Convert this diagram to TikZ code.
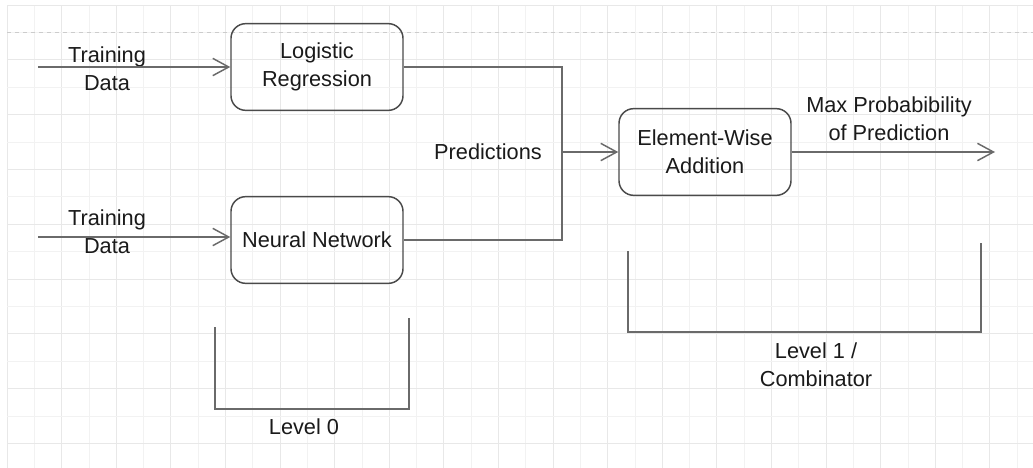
\documentclass[tikz,border=0pt]{standalone}
\usepackage{fontspec}
\setmainfont{Liberation Sans}
\usepackage{xcolor}
\usetikzlibrary{positioning,arrows.meta}

\definecolor{inkgray}{HTML}{1A1A1A}
\definecolor{linegray}{HTML}{6A6A6A}
\definecolor{boxgray}{HTML}{4A4A4A}

\begin{document}
\begin{tikzpicture}[x=0.75pt, y=-0.75pt, >={Straight Barb[length=12pt,width=13pt]}]
    \tikzstyle{box}=[rectangle, draw=boxgray, line width=1.1pt, rounded corners=11pt, align=center, minimum width=129pt, minimum height=65pt, text=inkgray]
    \tikzstyle{lbl}=[align=center, text=inkgray, inner sep=0pt]
    \tikzstyle{flow}=[draw=linegray, line width=1.1pt]
    \tikzstyle{bracket}=[draw=linegray, line width=2pt]
    \tikzstyle{minor}=[draw=gray!10, line width=0.6pt]
    \tikzstyle{major}=[draw=gray!18, line width=0.7pt]

    \useasboundingbox (0,0) rectangle (1033,468);
    \fill[white] (0,0) rectangle (1033,468);

    \foreach \i in {0,...,37} {
        \ifodd\i \draw[minor] ({7+27.3*\i},5) -- ({7+27.3*\i},468);
        \else \draw[major] ({7+27.3*\i},5) -- ({7+27.3*\i},468); \fi
    }
    \foreach \j in {0,...,16} {
        \ifodd\j \draw[minor] (7,{5+27.4*\j}) -- (1033,{5+27.4*\j});
        \else \draw[major] (7,{5+27.4*\j}) -- (1033,{5+27.4*\j}); \fi
    }
    \draw[gray!40, dashed, line width=0.7pt] (7,32.4) -- (1033,32.4);

    \begin{scope}[font=\fontsize{16.3}{21}\selectfont]
    \node[box] (lr) at (317,67) {Logistic\\Regression};
    \node[box] (nn) at (317,240) {Neural Network};
    \node[box] (ew) at (705,152) {Element-Wise\\Addition};

    \coordinate (in1) at (38,67);
    \coordinate (in2) at (38,237);
    \coordinate (join) at (562,152);
    \coordinate (out) at (995,152);

    \node[lbl] (td1) at (107,69) {Training\\Data};
    \node[lbl] (td2) at (107,232) {Training\\Data};
    \node[lbl] (pred) at (488,152) {Predictions};
    \node[lbl] (maxp) at (889,119) {Max Probabibility\\of Prediction};

    \draw[flow, ->] (in1) -- (in1 -| lr.west);
    \draw[flow, ->] (in2) -- (in2 -| nn.west);
    \draw[flow] (lr.east) -| (join) |- (nn.east);
    \draw[flow, ->] (join) -- (ew.west);
    \draw[flow, ->] (ew.east) -- (out);

    \coordinate (b0a) at (215,327);
    \coordinate (b0b) at (409,409);
    \coordinate (b0c) at (409,318);
    \draw[bracket] (b0a) |- (b0b) -- (b0c);
    \node[lbl] (lvl0) at (304,427) {Level 0};

    \coordinate (b1a) at (628,251);
    \coordinate (b1b) at (981,332);
    \coordinate (b1c) at (981,243);
    \draw[bracket] (b1a) |- (b1b) -- (b1c);
    \node[lbl] (lvl1) at (816,365) {Level 1 /\\Combinator};
    \end{scope}
\end{tikzpicture}
\end{document}
